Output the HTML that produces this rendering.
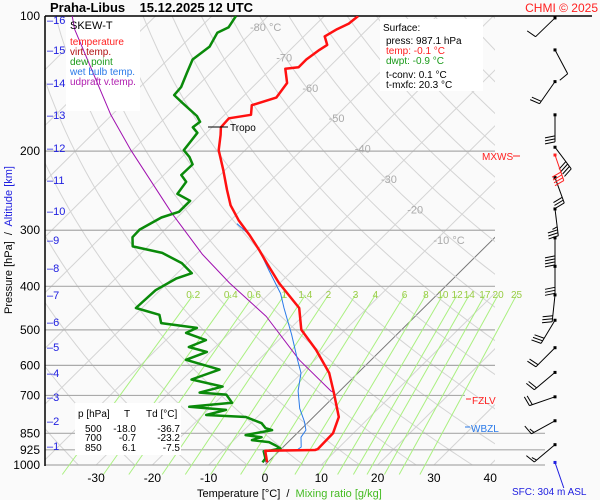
<!DOCTYPE html>
<html><head><meta charset="utf-8"><style>
body{margin:0;background:#fafafa;}
svg{display:block;font-family:"Liberation Sans",sans-serif;}
</style></head><body>
<svg id="c" width="600" height="500" viewBox="0 0 600 500">
<rect width="600" height="500" fill="#fafafa"/>
<defs><clipPath id="pa"><rect x="45" y="16" width="450" height="449"/></clipPath></defs>
<g id="grid" clip-path="url(#pa)"></g>
<g id="plines"></g>
<g id="mix"></g>
<g id="boxes">
<rect x="66" y="17" width="74" height="94" fill="#fff"/>
<rect x="380" y="19" width="103" height="72" fill="#fff"/>
<rect x="75" y="403" width="106" height="52" fill="#fff"/>
</g>
<g id="series" clip-path="url(#pa)"></g>
<g id="barbs"></g>
<g id="txt">
<text x="50" y="12" font-size="13" font-weight="bold">Praha-Libus&#160;&#160;&#160; 15.12.2025 12 UTC</text>
<text x="598" y="12" font-size="12" fill="#ff2020" text-anchor="end">CHMI © 2025</text>
<text x="70" y="29" font-size="11">SKEW-T</text>
<text x="70" y="45" font-size="10" fill="#ff2020">temperature</text>
<text x="70" y="55" font-size="10" fill="#b01010">virt.temp.</text>
<text x="70" y="65" font-size="10" fill="#1a9a1a">dew point</text>
<text x="70" y="75" font-size="10" fill="#2a7ae8">wet bulb temp.</text>
<text x="70" y="85" font-size="10" fill="#b020b0">udpraft v.temp.</text>
<text x="383" y="31" font-size="10">Surface:</text>
<text x="386" y="44" font-size="10">press: 987.1 hPa</text>
<text x="386" y="54" font-size="10" fill="#ff2020">temp: -0.1 °C</text>
<text x="386" y="64" font-size="10" fill="#1a9a1a">dwpt: -0.9 °C</text>
<text x="386" y="78" font-size="10">t-conv: 0.1 °C</text>
<text x="386" y="88" font-size="10">t-mxfc: 20.3 °C</text>
<g font-size="10">
<text x="78" y="417">p [hPa]</text><text x="124" y="417">T</text><text x="146" y="417">Td [°C]</text>
<text x="85" y="432">500</text><text x="136" y="432" text-anchor="end">-18.0</text><text x="180" y="432" text-anchor="end">-36.7</text>
<text x="85" y="441">700</text><text x="136" y="441" text-anchor="end">-0.7</text><text x="180" y="441" text-anchor="end">-23.2</text>
<text x="85" y="451">850</text><text x="136" y="451" text-anchor="end">6.1</text><text x="180" y="451" text-anchor="end">-7.5</text>
</g>
<line x1="208" y1="127" x2="228" y2="127" stroke="#000"/>
<text x="230" y="131" font-size="10">Tropo</text>
<text x="482" y="160" font-size="10" fill="#ff2020">MXWS</text>
<line x1="513" y1="156" x2="520" y2="156" stroke="#ff2020"/>
<line x1="466" y1="399" x2="471" y2="399" stroke="#ff2020"/>
<text x="472" y="404" font-size="10" fill="#ff2020">FZLV</text>
<line x1="465" y1="427" x2="470" y2="427" stroke="#2a7ae8"/>
<text x="471" y="432" font-size="10" fill="#2a7ae8">WBZL</text>
<text x="512" y="495" font-size="10" fill="#2020e0">SFC: 304 m ASL</text>
<text x="197" y="497" font-size="11">Temperature [°C]&#160; /&#160; <tspan fill="#44bb22">Mixing ratio [g/kg]</tspan></text>
<text transform="translate(12,240) rotate(-90)" font-size="11" text-anchor="middle">Pressure [hPa]&#160; /&#160; <tspan fill="#2020e0">Altitude [km]</tspan></text>
</g>
<g id="axes"></g>
</svg>
<script>
const tempP=[987,967,930,926,922,850,782,691,624,554,500,447,393,355,332,307,285,264,244,220,199,184,177,169,166,158,152,141,131,130,125,119,116,111,107,104,100];
const tempT=[-0.1,-0.9,-2.5,6.2,6.5,6.4,4.5,-0.7,-5.1,-11.6,-17.8,-22.1,-30.2,-35.9,-39.6,-44.1,-48.6,-52.7,-56.1,-60.4,-64.7,-67.1,-68.4,-68.6,-65.3,-66.9,-63.9,-64.6,-67.5,-65.4,-65.4,-64.8,-64.3,-66.3,-65.4,-64.3,-64.0];
const dewP=[987,967,932,928,919,905,889,880,867,858,836,828,807,782,774,754,742,727,697,690,669,645,613,583,560,546,527,508,495,483,463,447,408,384,374,355,337,326,311,299,281,273,258,249,234,226,214,206,199,189,182,177,172,167,156,150,144,134,125,117,109,106,100];
const dewT=[-0.9,-1.1,-2.7,-1.5,-0.2,-1.6,-3.4,-6.8,-5.6,-8.8,-5.0,-6.5,-8.1,-12.0,-19.4,-16.8,-23.9,-17.0,-19.5,-24.6,-21.6,-28.4,-25.2,-32.9,-30.6,-34.7,-32.9,-37.7,-36.7,-43.9,-45.7,-51.1,-50.8,-49.2,-47.4,-51.0,-56.3,-62.7,-64.4,-64.5,-62.8,-60.7,-60.7,-64.2,-64.8,-66.9,-66.8,-68.7,-70.9,-71.3,-71.6,-73.4,-73.1,-74.7,-79.7,-82.5,-82.7,-84.2,-85.6,-84.9,-86.0,-85.0,-85.7];
const wetP=[987,967,932,926,912,867,836,800,748,684,624,583,512,447,415,368,332,307,290];
const wetT=[-0.4,-0.9,-2.6,3.0,3.2,1.4,1.0,-0.8,-4.0,-7.4,-10.1,-13.1,-18.7,-24.8,-28.0,-34.3,-39.6,-44.1,-48.3];
const parP=[690,684,583,467,393,339,275,199,166,107,100];
const parT=[-0.7,-1.6,-12.8,-26.4,-39.0,-49.0,-61.7,-80.3,-90.2,-112,-114.8];
const pressTicks=[100,200,300,400,500,600,700,850,925,1000];
const tempTicks=[-30,-20,-10,0,10,20,30,40];
const kmTicks=[16,15,14,13,12,11,10,9,8,7,6,5,4,3,2,1];
const kmY=[20,50,83,115,148,180,211,240,268,295,322,347,373,397,421,446];
const mixVals=[0.2,0.4,0.6,1,1.4,2,3,4,6,8,10,12,14,17,20,25];
const isoLabels=[-80,-70,-60,-50,-40,-30,-20,-10];
const windP=[101,119,140,166,196,229,269,312,361,418,476,548,622,705,797,901];
const windDir=[226,152,215,180,143,160,173,180,180,186,211,225,230,251,241,230];
const windSpd=[10,10,20,30,40,30,35,40,30,30,30,20,20,20,15,15];

const NS='http://www.w3.org/2000/svg';
function yP(p){return 16+449*Math.log10(p/100);}
function xT(T,p){return 265+5.63*T+1.01*(465-yP(p));}
function mk(tag,attrs,parent){const e=document.createElementNS(NS,tag);for(const k in attrs)e.setAttribute(k,attrs[k]);parent.appendChild(e);return e;}
const G=id=>document.getElementById(id);
const grid=G('grid');
for(let T=-160;T<=50;T+=10){
 const l=mk('line',{x1:xT(T,1050),y1:yP(1050),x2:xT(T,100),y2:yP(100),stroke:T===0?'#777':'#d4d4d4','stroke-width':1},grid);
 
 
}
for(let th=230;th<=520;th+=10){
 let d='';
 for(let p=1050;p>=100;p-=10){const T=th*Math.pow(p/1000,0.2857)-273.15;d+=(d?'L':'M')+xT(T,p).toFixed(1)+','+yP(p).toFixed(1);}
 const l=mk('path',{d:d,fill:'none',stroke:'#d4d4d4','stroke-width':1},grid);
 
 
}
const pl=G('plines');
pressTicks.forEach(p=>{
 const y=yP(p);let x2=495,c='#aaa';
 if(p===100){x2=592;c='#000';}
 if(p===700)x2=465;
 if(p>=850)x2=545;
 const l=mk('line',{x1:45,y1:y,x2:x2,y2:y,stroke:c,'stroke-width':p===100?1.5:1.2},pl);
 
 
 const t=mk('text',{x:40,y:y+4,'font-size':12,'text-anchor':'end'},pl);
 t.textContent=p;
 
 
});
const mx=G('mix');
mixVals.forEach(w=>{
 let d='';
 [1050,418].forEach(p=>{const e=w*p/(622+w);const a=Math.log(e/6.112);const T=243.5*a/(17.67-a);d+=(d?'L':'M')+xT(T,p).toFixed(1)+','+yP(p).toFixed(1);});
 const l=mk('path',{d:d,stroke:'#aaf080','stroke-width':1,fill:'none'},mx);
 
 
 const p=418,e=w*p/(622+w),a=Math.log(e/6.112),T=243.5*a/(17.67-a);
 const t=mk('text',{x:xT(T,p),y:yP(p)+3,'font-size':10,fill:'#99cc44','text-anchor':'middle'},mx);
 t.textContent=w;
 
 
});
isoLabels.forEach((T,i)=>{
 const t=mk('text',{x:250+i*26.2,y:31+i*30.4,'font-size':11,fill:'#aaa'},grid.parentNode);
 t.textContent=T+((i===0||i===7)?' °C':'');
 
 
});
const se=G('series');
function line(P,T,col,w,name){
 const d=P.map((p,i)=>(i?'L':'M')+xT(T[i],p).toFixed(1)+','+yP(p).toFixed(1)).join('');
 const l=mk('path',{d:d,fill:'none',stroke:col,'stroke-width':w,'stroke-linejoin':'round'},se);
 
 
}
line(parP,parT,'#a010b0',1,'updraft-line');
line(dewP,dewT,'#0a8a0a',2.5,'dew-point-line');
line(wetP,wetT,'#2a7ae8',1,'wet-bulb-line');
line(tempP,tempT,'#ff1010',2.5,'temperature-line');
const ax=G('axes');
const la=mk('line',{x1:45,y1:16,x2:45,y2:466,stroke:'#000','stroke-width':1.5},ax);


tempTicks.forEach(T=>{
 const t=mk('text',{x:265+5.63*T,y:482,'font-size':12,'text-anchor':'middle'},ax);
 t.textContent=T;
 
 
});
kmTicks.forEach((k,i)=>{
 const t=mk('text',{x:47,y:kmY[i]+4,'font-size':11,fill:'#2020e0'},ax);
 t.textContent='\u2013'+k;
 
 
});
const wb=G('barbs');
function barb(y,dir,spd,col,name){
 const r=dir*Math.PI/180,dx=Math.sin(r),dy=-Math.cos(r),L=27,bx=555;
 const tx=bx+dx*L,ty=y+dy*L;
 const g=mk('g',{},wb);
 
 
 mk('line',{x1:bx,y1:y,x2:tx,y2:ty,stroke:col,'stroke-width':1},g);
 mk('rect',{x:bx-1.5,y:y-1.5,width:3,height:3,fill:col},g);
 let s=spd,off=0;
 while(s>=5){
  const len=s>=10?10:5;
  const sx=tx-dx*off,sy=ty-dy*off;
  mk('line',{x1:sx,y1:sy,x2:sx-dy*len+dx*2,y2:sy+dx*len+dy*2,stroke:col,'stroke-width':1},g);
  s-=len>=10?10:5;off+=3;
 }
}
windP.forEach((p,i)=>barb(yP(p),windDir[i],windSpd[i],'#000','wind-barb'));
barb(yP(204),161,40,'#ff2020','max-wind-barb');
barb(yP(987),161,0,'#2020e0','surface-wind-barb');
</script>
</body></html>
